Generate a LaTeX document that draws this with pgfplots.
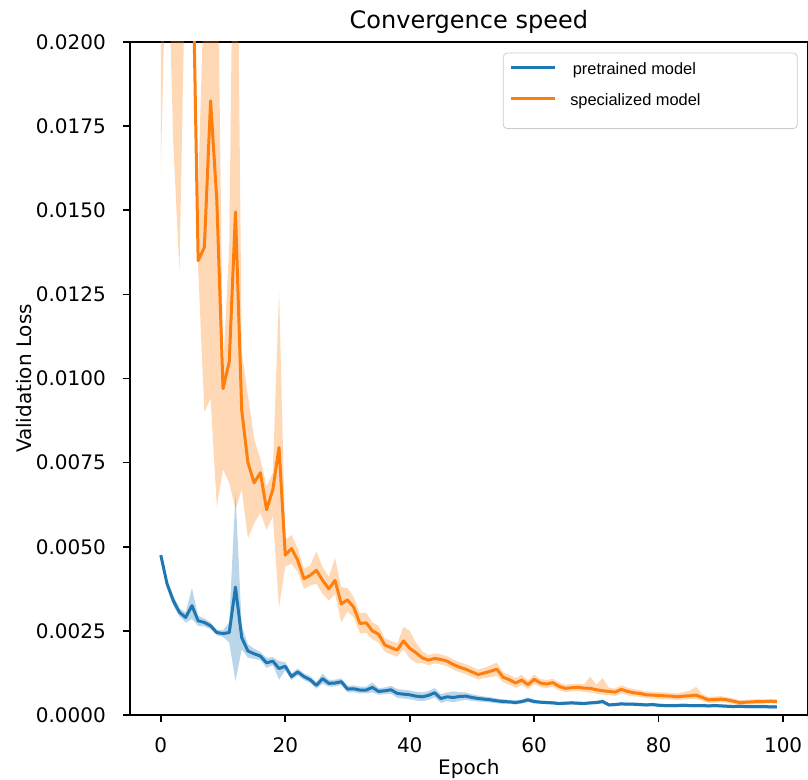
\documentclass[border=0pt]{standalone}
\usepackage{fontspec}
\setmainfont{DejaVu Sans}
\newfontfamily\legendfont{Liberation Sans}
\usepackage{pgfplots}
\pgfplotsset{compat=1.18}
\usepackage{pgfplotstable}
\usepgfplotslibrary{fillbetween}
\definecolor{tabblue}{RGB}{31,119,180}
\definecolor{taborange}{RGB}{255,127,14}

\pgfplotstableread{
x m lo hi
0 4.75e-3 4.67e-3 4.83e-3
1 3.90e-3 3.78e-3 4.02e-3
2 3.40e-3 3.25e-3 3.55e-3
3 3.05e-3 2.93e-3 3.17e-3
4 2.90e-3 2.75e-3 3.05e-3
5 3.25e-3 2.85e-3 3.77e-3
6 2.80e-3 2.65e-3 2.95e-3
7 2.75e-3 2.63e-3 2.87e-3
8 2.65e-3 2.55e-3 2.75e-3
9 2.45e-3 2.37e-3 2.53e-3
10 2.42e-3 2.32e-3 2.52e-3
11 2.45e-3 2.15e-3 2.75e-3
12 3.80e-3 1.00e-3 6.60e-3
13 2.30e-3 1.95e-3 2.65e-3
14 1.90e-3 1.70e-3 2.10e-3
15 1.82e-3 1.67e-3 1.97e-3
16 1.75e-3 1.63e-3 1.87e-3
17 1.55e-3 1.40e-3 1.70e-3
18 1.60e-3 1.48e-3 1.72e-3
19 1.38e-3 1.05e-3 1.60e-3
20 1.45e-3 1.33e-3 1.57e-3
21 1.14e-3 1.04e-3 1.24e-3
22 1.28e-3 1.18e-3 1.38e-3
23 1.14e-3 1.04e-3 1.24e-3
24 1.05e-3 0.95e-3 1.15e-3
25 0.88e-3 0.78e-3 0.98e-3
26 1.08e-3 0.93e-3 1.23e-3
27 0.94e-3 0.84e-3 1.04e-3
28 0.95e-3 0.85e-3 1.05e-3
29 0.99e-3 0.89e-3 1.09e-3
30 0.77e-3 0.67e-3 0.87e-3
31 0.78e-3 0.68e-3 0.88e-3
32 0.74e-3 0.64e-3 0.84e-3
33 0.74e-3 0.64e-3 0.84e-3
34 0.82e-3 0.67e-3 0.97e-3
35 0.70e-3 0.60e-3 0.80e-3
36 0.72e-3 0.62e-3 0.82e-3
37 0.75e-3 0.63e-3 0.87e-3
38 0.64e-3 0.51e-3 0.77e-3
39 0.62e-3 0.49e-3 0.75e-3
40 0.60e-3 0.47e-3 0.73e-3
41 0.56e-3 0.43e-3 0.69e-3
42 0.54e-3 0.41e-3 0.67e-3
43 0.58e-3 0.45e-3 0.71e-3
44 0.66e-3 0.52e-3 0.80e-3
45 0.49e-3 0.36e-3 0.62e-3
46 0.54e-3 0.41e-3 0.67e-3
47 0.52e-3 0.38e-3 0.70e-3
48 0.55e-3 0.42e-3 0.68e-3
49 0.56e-3 0.45e-3 0.67e-3
50 0.52e-3 0.42e-3 0.62e-3
51 0.49e-3 0.40e-3 0.58e-3
52 0.47e-3 0.39e-3 0.55e-3
53 0.45e-3 0.37e-3 0.53e-3
54 0.42e-3 0.35e-3 0.49e-3
55 0.40e-3 0.33e-3 0.47e-3
56 0.39e-3 0.33e-3 0.45e-3
57 0.37e-3 0.31e-3 0.43e-3
58 0.40e-3 0.34e-3 0.46e-3
59 0.45e-3 0.38e-3 0.52e-3
60 0.40e-3 0.34e-3 0.46e-3
61 0.38e-3 0.33e-3 0.43e-3
62 0.37e-3 0.32e-3 0.42e-3
63 0.36e-3 0.31e-3 0.41e-3
64 0.34e-3 0.29e-3 0.39e-3
65 0.35e-3 0.30e-3 0.40e-3
66 0.36e-3 0.31e-3 0.41e-3
67 0.35e-3 0.30e-3 0.40e-3
68 0.34e-3 0.29e-3 0.39e-3
69 0.36e-3 0.31e-3 0.41e-3
70 0.37e-3 0.32e-3 0.42e-3
71 0.40e-3 0.34e-3 0.46e-3
72 0.30e-3 0.25e-3 0.35e-3
73 0.31e-3 0.26e-3 0.36e-3
74 0.33e-3 0.28e-3 0.38e-3
75 0.32e-3 0.27e-3 0.37e-3
76 0.32e-3 0.27e-3 0.37e-3
77 0.31e-3 0.26e-3 0.36e-3
78 0.30e-3 0.25e-3 0.35e-3
79 0.31e-3 0.26e-3 0.36e-3
80 0.29e-3 0.24e-3 0.34e-3
81 0.28e-3 0.23e-3 0.33e-3
82 0.28e-3 0.23e-3 0.33e-3
83 0.28e-3 0.23e-3 0.33e-3
84 0.29e-3 0.24e-3 0.34e-3
85 0.28e-3 0.23e-3 0.33e-3
86 0.28e-3 0.23e-3 0.33e-3
87 0.28e-3 0.23e-3 0.33e-3
88 0.27e-3 0.22e-3 0.32e-3
89 0.28e-3 0.23e-3 0.33e-3
90 0.27e-3 0.22e-3 0.32e-3
91 0.26e-3 0.21e-3 0.31e-3
92 0.25e-3 0.20e-3 0.30e-3
93 0.26e-3 0.21e-3 0.31e-3
94 0.25e-3 0.20e-3 0.30e-3
95 0.25e-3 0.20e-3 0.30e-3
96 0.25e-3 0.20e-3 0.30e-3
97 0.25e-3 0.20e-3 0.30e-3
98 0.24e-3 0.19e-3 0.29e-3
99 0.24e-3 0.19e-3 0.29e-3
}\pretrained

\pgfplotstableread{
x m lo hi
0 30e-3 16.1e-3 44e-3
1 32e-3 24e-3 40e-3
2 28e-3 17e-3 39e-3
3 26e-3 13.2e-3 38.8e-3
4 30e-3 23e-3 37e-3
5 24e-3 22e-3 27e-3
6 13.5e-3 13.3e-3 15.6e-3
7 13.9e-3 9.0e-3 22e-3
8 18.25e-3 9.4e-3 26e-3
9 15.3e-3 6.2e-3 25e-3
10 9.7e-3 7.3e-3 10.2e-3
11 10.5e-3 6.9e-3 14e-3
12 14.95e-3 6.1e-3 30e-3
13 9.06e-3 6.7e-3 10.8e-3
14 7.5e-3 5.25e-3 9.5e-3
15 6.9e-3 5.7e-3 8.2e-3
16 7.2e-3 6.0e-3 7.6e-3
17 6.1e-3 5.5e-3 6.8e-3
18 6.7e-3 5.9e-3 7.2e-3
19 7.95e-3 3.2e-3 12.6e-3
20 4.75e-3 4.41e-3 5.2e-3
21 4.95e-3 4.5e-3 5.35e-3
22 4.6e-3 4.25e-3 4.95e-3
23 4.05e-3 3.75e-3 4.35e-3
24 4.15e-3 3.85e-3 4.45e-3
25 4.3e-3 3.9e-3 4.85e-3
26 4.0e-3 3.6e-3 4.4e-3
27 3.75e-3 3.4e-3 4.1e-3
28 4.0e-3 3.6e-3 4.66e-3
29 3.3e-3 2.75e-3 3.8e-3
30 3.42e-3 3.07e-3 3.77e-3
31 3.2e-3 2.9e-3 3.5e-3
32 2.72e-3 2.42e-3 3.02e-3
33 2.74e-3 2.44e-3 3.04e-3
34 2.5e-3 2.25e-3 2.75e-3
35 2.4e-3 2.15e-3 2.65e-3
36 2.08e-3 1.88e-3 2.28e-3
37 2.0e-3 1.8e-3 2.2e-3
38 1.93e-3 1.73e-3 2.13e-3
39 2.2e-3 1.95e-3 2.62e-3
40 1.98e-3 1.68e-3 2.5e-3
41 1.85e-3 1.55e-3 2.15e-3
42 1.7e-3 1.54e-3 1.9e-3
43 1.63e-3 1.48e-3 1.78e-3
44 1.68e-3 1.53e-3 1.83e-3
45 1.65e-3 1.5e-3 1.8e-3
46 1.6e-3 1.45e-3 1.75e-3
47 1.5e-3 1.35e-3 1.65e-3
48 1.42e-3 1.27e-3 1.57e-3
49 1.36e-3 1.21e-3 1.51e-3
50 1.28e-3 1.13e-3 1.43e-3
51 1.2e-3 1.05e-3 1.35e-3
52 1.25e-3 1.1e-3 1.4e-3
53 1.3e-3 1.12e-3 1.48e-3
54 1.36e-3 1.16e-3 1.56e-3
55 1.12e-3 0.97e-3 1.27e-3
56 1.05e-3 0.9e-3 1.2e-3
57 0.95e-3 0.8e-3 1.1e-3
58 1.04e-3 0.89e-3 1.19e-3
59 0.9e-3 0.77e-3 1.03e-3
60 1.06e-3 0.92e-3 1.2e-3
61 0.95e-3 0.83e-3 1.07e-3
62 0.92e-3 0.8e-3 1.04e-3
63 0.96e-3 0.84e-3 1.08e-3
64 0.85e-3 0.73e-3 0.97e-3
65 0.79e-3 0.68e-3 0.9e-3
66 0.81e-3 0.7e-3 0.92e-3
67 0.82e-3 0.71e-3 0.93e-3
68 0.8e-3 0.69e-3 0.91e-3
69 0.79e-3 0.66e-3 1.14e-3
70 0.75e-3 0.63e-3 0.9e-3
71 0.72e-3 0.6e-3 1.1e-3
72 0.7e-3 0.59e-3 0.81e-3
73 0.68e-3 0.57e-3 0.79e-3
74 0.76e-3 0.64e-3 0.88e-3
75 0.7e-3 0.59e-3 0.81e-3
76 0.66e-3 0.55e-3 0.77e-3
77 0.64e-3 0.54e-3 0.74e-3
78 0.6e-3 0.5e-3 0.7e-3
79 0.59e-3 0.49e-3 0.69e-3
80 0.58e-3 0.48e-3 0.68e-3
81 0.57e-3 0.47e-3 0.67e-3
82 0.56e-3 0.46e-3 0.66e-3
83 0.54e-3 0.44e-3 0.64e-3
84 0.56e-3 0.46e-3 0.68e-3
85 0.57e-3 0.47e-3 0.72e-3
86 0.59e-3 0.48e-3 0.84e-3
87 0.52e-3 0.42e-3 0.62e-3
88 0.45e-3 0.36e-3 0.54e-3
89 0.46e-3 0.37e-3 0.55e-3
90 0.47e-3 0.38e-3 0.56e-3
91 0.45e-3 0.37e-3 0.53e-3
92 0.41e-3 0.33e-3 0.49e-3
93 0.37e-3 0.3e-3 0.44e-3
94 0.38e-3 0.31e-3 0.45e-3
95 0.39e-3 0.32e-3 0.46e-3
96 0.4e-3 0.33e-3 0.47e-3
97 0.4e-3 0.34e-3 0.46e-3
98 0.41e-3 0.35e-3 0.47e-3
99 0.4e-3 0.34e-3 0.46e-3
}\specialized

\begin{document}
\begin{tikzpicture}
\begin{axis}[
  name=ax,
  scale only axis,
  width=338.85pt, height=336.5pt,
  xmin=-4.95, xmax=103.95, ymin=0, ymax=0.02,
  xtick={0,20,40,60,80,100},
  ytick={0,0.0025,0.005,0.0075,0.01,0.0125,0.015,0.0175,0.02},
  scaled y ticks=false,
  /pgf/number format/assume math mode=true,
  yticklabel style={/pgf/number format/fixed, /pgf/number format/fixed zerofill, /pgf/number format/precision=4},
  tick align=outside,
  tick pos=left,
  major tick length=3.5pt,
  every tick/.style={black, line width=0.8pt},
  axis line style={line width=0.8pt},
  tick label style={font=\fontsize{10}{12}\selectfont},
  xticklabel style={anchor=base, inner sep=0pt, yshift=-15.5pt},
  yticklabel style={anchor=east, inner sep=0pt, xshift=-8.35pt},
  title={Convergence speed},
  every axis title/.style={at={(axis description cs:0.5,1)}, anchor=base, yshift=6.5pt, font=\fontsize{12}{14}\selectfont},
  xlabel={Epoch},
  ylabel={Validation Loss},
  every axis x label/.style={at={(axis description cs:0.5,-0.08915)}, anchor=base, font=\fontsize{10}{12}\selectfont},
  every axis y label/.style={at={(axis description cs:-0.14505,0.5)}, rotate=90, anchor=base, font=\fontsize{10}{12}\selectfont},
  legend style={at={(axis description cs:0.9852,0.9842)}, anchor=north east, draw=black!20, rounded corners=2pt, fill=white,
    inner xsep=3.3pt, inner ysep=4pt, font=\legendfont\fontsize{8.2}{10}\selectfont,
    row sep=1.2pt, column sep=7pt, nodes={inner sep=0pt, text height=6.65pt, text depth=7.65pt}},
  legend cell align=left,
  legend image code/.code={\draw[#1, line width=1.5pt] (0pt,3.7pt) -- (21.7pt,3.7pt);},
]
\addplot[draw=none, forget plot, name path=bhi] table[x=x, y=hi]{\pretrained};
\addplot[draw=none, forget plot, name path=blo] table[x=x, y=lo]{\pretrained};
\addplot[fill=tabblue, fill opacity=0.3, draw=none, forget plot] fill between[of=bhi and blo];
\addplot[draw=none, forget plot, name path=ohi] table[x=x, y=hi]{\specialized};
\addplot[draw=none, forget plot, name path=olo] table[x=x, y=lo]{\specialized};
\addplot[fill=taborange, fill opacity=0.3, draw=none, forget plot] fill between[of=ohi and olo];
\addplot[tabblue, line width=1.5pt, line join=round, no marks] table[x=x, y=m]{\pretrained};
\addlegendentry{\makebox[110.2pt][l]{\hspace{1.3pt}pretrained model}}
\addplot[taborange, line width=1.5pt, line join=round, no marks] table[x=x, y=m]{\specialized};
\addlegendentry{\makebox[110.2pt][l]{specialized model}}
\end{axis}
\pgfresetboundingbox
\path ([shift={(-65pt,-32.5pt)}]ax.south west) rectangle ([shift={(0.15pt,21pt)}]ax.north east);
\end{tikzpicture}
\end{document}
